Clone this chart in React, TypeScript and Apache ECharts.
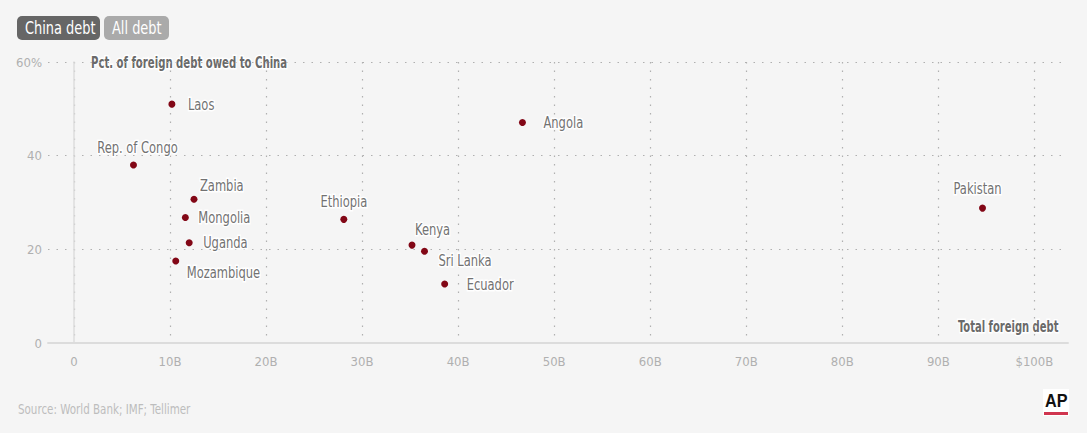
import React, { useEffect, useRef } from "react";
import * as echarts from "echarts";

const countries = ["Laos", "Rep. of Congo", "Zambia", "Mongolia", "Uganda", "Mozambique", "Ethiopia", "Kenya", "Sri Lanka", "Ecuador", "Angola", "Pakistan"];
const totalDebtB = [10.2, 6.2, 12.5, 11.6, 12.0, 10.6, 28.1, 35.2, 36.5, 38.6, 46.7, 94.6];
const pctChina = [51.0, 38.0, 30.7, 26.8, 21.4, 17.5, 26.4, 20.9, 19.6, 12.6, 47.1, 28.8];
const xTicks = [0, 10, 20, 30, 40, 50, 60, 70, 80, 90, 100];
const yTicks = [0, 20, 40, 60];

const FONT = "'DejaVu Sans Condensed', 'Liberation Sans Narrow', 'DejaVu Sans', sans-serif";

// label placement (offset from the dot, alignment)
const labelStyle: Record<string, { dx: number; dy: number; align: string }> = {
  "Laos": { dx: 16, dy: 0, align: "left" },
  "Rep. of Congo": { dx: 4, dy: -18, align: "center" },
  "Zambia": { dx: 6, dy: -14, align: "left" },
  "Mongolia": { dx: 13, dy: 0, align: "left" },
  "Uganda": { dx: 14, dy: 0, align: "left" },
  "Mozambique": { dx: 11, dy: 11, align: "left" },
  "Ethiopia": { dx: 0, dy: -18, align: "center" },
  "Kenya": { dx: 3, dy: -16, align: "left" },
  "Sri Lanka": { dx: 14, dy: 9, align: "left" },
  "Ecuador": { dx: 22, dy: 0, align: "left" },
  "Angola": { dx: 21, dy: 0, align: "left" },
  "Pakistan": { dx: -5, dy: -20, align: "center" },
};

export default function App() {
  const ref = useRef<HTMLDivElement>(null);
  useEffect(() => {
    const chart = echarts.init(ref.current!, undefined, { renderer: "svg" });
    const data = countries.map((name, i) => ({ name, value: [totalDebtB[i], pctChina[i]] }));
    const dotted = { type: [1.5, 7] as any, color: "#b0b0b0", width: 1.2 };
    const SX = 0.8;
    chart.setOption({
      animation: false,
      backgroundColor: "#f5f5f5",
      grid: { left: 48, right: 19, top: 62, bottom: 90, outerBoundsMode: "none", containLabel: false },
      xAxis: {
        type: "value",
        min: -2.7,
        max: 103.5,
        axisLine: { show: true, onZero: true, lineStyle: { color: "#dcdcdc", width: 2 } },
        axisTick: { show: false, customValues: xTicks },
        axisLabel: {
          customValues: xTicks,
          color: "#b0b0b0",
          fontFamily: FONT,
          fontSize: 13,
          margin: 12,
          formatter: (v: number) => (v === 0 ? "0" : v === 100 ? "$100B" : `${v}B`),
        },
        splitLine: { show: true, lineStyle: dotted },
      },
      yAxis: {
        type: "value",
        min: 0,
        max: 60,
        axisLine: { show: true, onZero: true, lineStyle: { color: "#dcdcdc", width: 1.5 } },
        axisTick: { show: false, customValues: yTicks },
        axisLabel: {
          customValues: yTicks,
          color: "#b0b0b0",
          fontFamily: FONT,
          fontSize: 13,
          margin: 6,
          formatter: (v: number) => (v === 60 ? "60%" : `${v}`),
        },
        splitLine: { show: true, lineStyle: dotted },
      },
      series: [
        {
          type: "custom",
          data,
          encode: { x: 0, y: 1 },
          renderItem: (params: any, api: any) => {
            const p = api.coord([api.value(0), api.value(1)]);
            const name = countries[params.dataIndex];
            const ls = labelStyle[name];
            return {
              type: "group",
              children: [
                {
                  type: "text",
                  x: p[0] + ls.dx,
                  y: p[1] + ls.dy,
                  scaleX: SX,
                  style: {
                    text: name,
                    textAlign: ls.align,
                    textVerticalAlign: "middle",
                    font: `16px ${FONT}`,
                    fill: "#727272",
                    stroke: "#ffffff",
                    lineWidth: 3,
                  },
                },
                { type: "circle", shape: { cx: p[0], cy: p[1], r: 3.5 }, style: { fill: "#820716" } },
              ],
            };
          },
        },
      ],
      graphic: [
        { type: "rect", x: 17, y: 16, shape: { width: 83, height: 24, r: 5 }, style: { fill: "#666666" } },
        { type: "text", x: 25, y: 28, scaleX: 0.8, style: { text: "China debt", fill: "#ffffff", font: `18px ${FONT}`, textVerticalAlign: "middle" } },
        { type: "rect", x: 104, y: 16, shape: { width: 65, height: 24, r: 5 }, style: { fill: "#aaaaaa" } },
        { type: "text", x: 112, y: 28, scaleX: 0.8, style: { text: "All debt", fill: "#ffffff", font: `18px ${FONT}`, textVerticalAlign: "middle" } },
        {
          type: "text", x: 91, y: 63, scaleX: 0.75,
          style: { text: "Pct. of foreign debt owed to China", fill: "#6a6a6a", font: `bold 15px ${FONT}`, stroke: "#ffffff", lineWidth: 3, textVerticalAlign: "middle" },
        },
        {
          type: "text", x: 958, y: 327, scaleX: 0.74,
          style: { text: "Total foreign debt", fill: "#6a6a6a", font: `bold 15px ${FONT}`, stroke: "#ffffff", lineWidth: 3, textVerticalAlign: "middle" },
        },
        { type: "text", x: 18, y: 409, scaleX: 0.82, style: { text: "Source: World Bank; IMF; Tellimer", fill: "#bdbdbd", font: `14px ${FONT}`, textVerticalAlign: "middle" } },
        { type: "rect", x: 1043, y: 389, shape: { width: 26, height: 27 }, style: { fill: "#ffffff" } },
        { type: "text", x: 1045, y: 401, scaleX: 0.9, style: { text: "AP", fill: "#111111", font: `bold 18px 'Liberation Sans', sans-serif`, textVerticalAlign: "middle" } },
        { type: "rect", x: 1044, y: 412, shape: { width: 24, height: 3 }, style: { fill: "#d0354f" } },
      ],
    });
    return () => chart.dispose();
  }, []);
  return <div ref={ref} style={{ width: 1087, height: 433, position: "absolute", left: 0, top: 0 }} />;
}
